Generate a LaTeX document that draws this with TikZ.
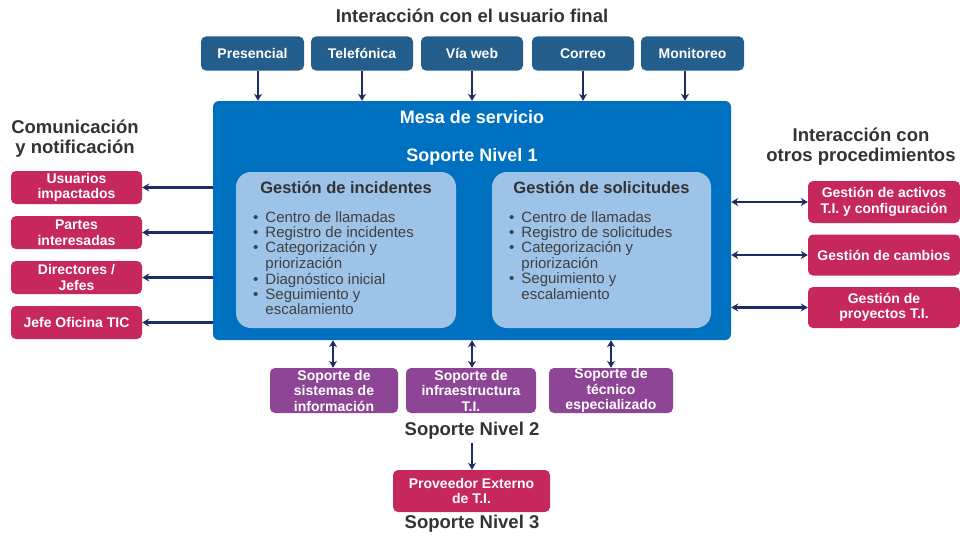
\documentclass[tikz,border=0pt]{standalone}
\usepackage{fontspec}
\setmainfont{Liberation Sans}
\usetikzlibrary{arrows.meta}
\definecolor{topblue}{HTML}{245E8C}
\definecolor{mainblue}{HTML}{0070C0}
\definecolor{lightblue}{HTML}{9DC3E6}
\definecolor{magentab}{HTML}{C6285E}
\definecolor{purpleb}{HTML}{8E4595}
\definecolor{navyarrow}{HTML}{1C2D66}
\definecolor{headtext}{HTML}{333333}
\definecolor{bodytext}{HTML}{404040}
\tikzset{
  boxbase/.style={rounded corners=5pt, inner sep=0pt, text=white, align=center,
    font=\bfseries\fontsize{14}{15.5}\selectfont},
  topbox/.style={boxbase, fill=topblue, minimum height=34pt},
  magbox/.style={boxbase, fill=magentab},
  purbox/.style={boxbase, fill=purpleb},
  heading/.style={text=headtext, align=center, font=\bfseries\fontsize{18.5}{20}\selectfont},
  arr/.style={draw=navyarrow, line width=2.3pt, -{Stealth[length=7pt,width=8pt]}},
  darr/.style={draw=navyarrow, line width=2.3pt, {Stealth[length=7pt,width=8pt]}-{Stealth[length=7pt,width=8pt]}},
  innerbox/.style={fill=lightblue, rounded corners=15pt, minimum height=156pt, inner sep=0pt},
  bullets/.style={text=bodytext, anchor=north west, inner sep=0pt, align=left,
    font=\fontsize{15}{15}\selectfont},
}
\newcommand{\blist}[1]{\renewcommand{\arraystretch}{1}\begin{tabular}{@{}l@{\hspace{7pt}}l@{}}#1\end{tabular}}
\begin{document}
\begin{tikzpicture}[x=1pt,y=-1pt]
\useasboundingbox[fill=white] (0,0) rectangle (960,535);

% top title and channels
\node[heading] (t1) at (472,16) {Interacción con el usuario final};
\node[topbox, minimum width=103pt] (pre) at (252.5,53.5) {Presencial};
\node[topbox, minimum width=102pt] (tel) at (362,53.5) {Telefónica};
\node[topbox, minimum width=102pt] (web) at (472,53.5) {Vía web};
\node[topbox, minimum width=102pt] (cor) at (583,53.5) {Correo};
\node[topbox, minimum width=103pt] (mon) at (692.5,53.5) {Monitoreo};

% main box
\node[fill=mainblue, rounded corners=6pt, minimum width=518pt, minimum height=239pt, inner sep=0pt] (mesa) at (472,220.5) {};
\node[text=white, font=\bfseries\fontsize{18}{20}\selectfont] (mesat) at (472,117) {Mesa de servicio};
\node[text=white, font=\bfseries\fontsize{18}{20}\selectfont] (niv1) at (472,157) {Soporte Nivel 1};

\node[innerbox, minimum width=220pt] (inc) at (346,250) {};
\node[innerbox, minimum width=219pt] (sol) at (601.5,250) {};
\node[text=headtext, font=\bfseries\fontsize{16.5}{18}\selectfont] (inct) at (346,188) {Gestión de incidentes};
\node[text=headtext, font=\bfseries\fontsize{16.5}{18}\selectfont] (solt) at (601.5,188) {Gestión de solicitudes};
\node[bullets] (incl) at (253,211) {\blist{%
\textbullet & Centro de llamadas\\
\textbullet & Registro de incidentes\\
\textbullet & Categorización y\\
 & priorización\\
\textbullet & Diagnóstico inicial\\
\textbullet & Seguimiento y\\
 & escalamiento}};
\node[bullets] (soll) at (509,211) {\blist{%
\textbullet & Centro de llamadas\\
\textbullet & Registro de solicitudes\\
\textbullet & Categorización y\\
 & priorización\\
\textbullet & Seguimiento y\\
 & escalamiento}};

\foreach \n/\dx in {pre/5.5,tel/0,web/0,cor/0,mon/-7.5}{
  \draw[arr] ([xshift=\dx pt]\n.south) -- ([xshift=\dx pt]\n.south |- mesa.north);
}

% left side
\node[heading] (lt) at (75,139) {Comunicación\\ y notificación};
\node[magbox, minimum width=131pt, minimum height=33pt] (usu) at (76.5,187.5) {Usuarios\\impactados};
\node[magbox, minimum width=131pt, minimum height=33pt] (par) at (76.5,232.5) {Partes\\interesadas};
\node[magbox, minimum width=131pt, minimum height=33pt] (dir) at (76.5,277.5) {Directores /\\Jefes};
\node[magbox, minimum width=131pt, minimum height=33pt] (jef) at (76.5,322.5) {Jefe Oficina TIC};
\foreach \n in {usu,par,dir,jef}{
  \draw[arr] (\n.east -| mesa.west) -- (\n.east);
}

% right side
\node[heading] (rt) at (861,147) {Interacción con\\ otros procedimientos};
\node[magbox, minimum width=152pt, minimum height=42pt] (act) at (884,202) {Gestión de activos\\T.I. y configuración};
\node[magbox, minimum width=152pt, minimum height=41pt] (cam) at (884,255) {Gestión de cambios};
\node[magbox, minimum width=152pt, minimum height=41pt] (pro) at (884,307.5) {Gestión de\\proyectos T.I.};
\foreach \n in {act,cam,pro}{
  \draw[darr] (\n.west -| mesa.east) -- (\n.west);
}

% bottom
\node[purbox, minimum width=128pt, minimum height=45pt] (s1) at (334,390.5) {Soporte de\\sistemas de\\información};
\node[purbox, minimum width=130pt, minimum height=45pt] (s2) at (471,390.5) {Soporte de\\infraestructura\\T.I.};
\node[purbox, minimum width=124pt, minimum height=45pt] (s3) at (611,390.5) {Soporte de\\técnico\\especializado};
\draw[darr] ([xshift=-1pt]s1.north |- mesa.south) -- ([xshift=-1pt]s1.north);
\draw[darr] ([xshift=1pt]s2.north |- mesa.south) -- ([xshift=1pt]s2.north);
\draw[darr] (s3.north |- mesa.south) -- (s3.north);
\node[heading] (n2) at (472,431) {Soporte Nivel 2};
\node[magbox, minimum width=157pt, minimum height=42pt] (prov) at (471.5,491) {Proveedor Externo\\de T.I.};
\draw[arr] (n2.south) -- (n2.south |- prov.north);
\node[heading] (n3) at (472,524) {Soporte Nivel 3};
\end{tikzpicture}
\end{document}
